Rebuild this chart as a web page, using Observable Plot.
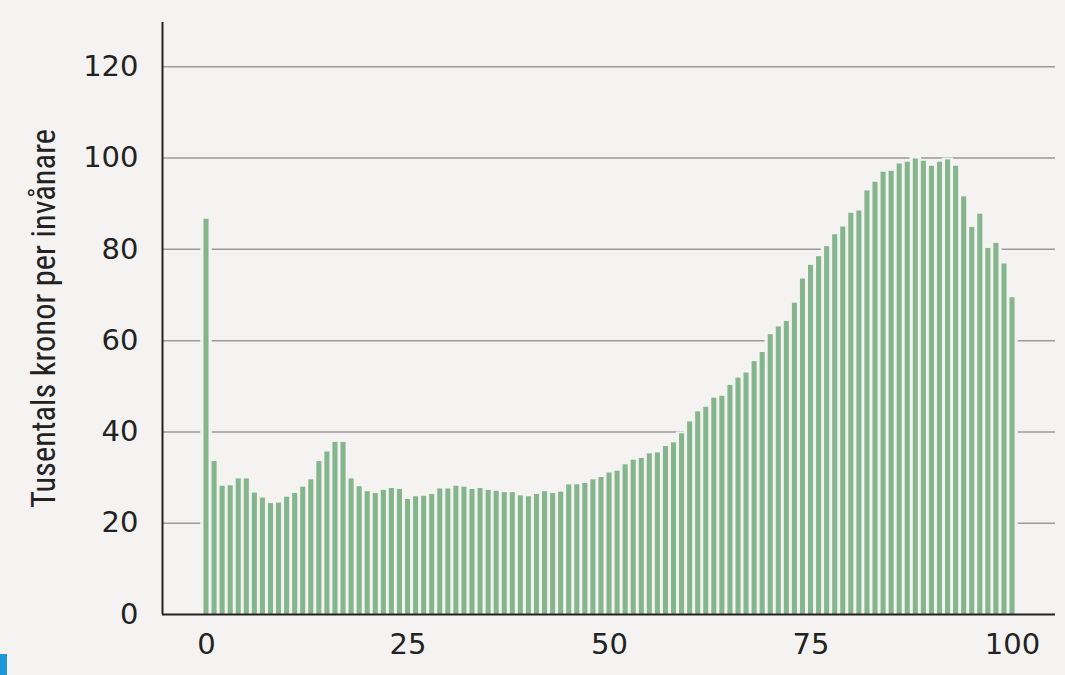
<!DOCTYPE html>
<html>
<head>
<meta charset="utf-8">
<script src="https://cdn.jsdelivr.net/npm/d3@7"></script>
<script src="https://cdn.jsdelivr.net/npm/@observablehq/plot@0.6"></script>
<style>
  html, body { margin: 0; padding: 0; background: #f4f3f1; }
  #chart { position: relative; width: 1065px; height: 675px; overflow: hidden; }
  #mark { position: absolute; left: 0; top: 654px; width: 7px; height: 21px; background: #1b98dc; }
</style>
</head>
<body>
<div id="chart"><div id="mark"></div></div>
<script>
// Age (years) categories
const ages = [
  0,1,2,3,4,5,6,7,8,9,10,11,12,13,14,15,16,17,18,19,
  20,21,22,23,24,25,26,27,28,29,30,31,32,33,34,35,36,37,38,39,
  40,41,42,43,44,45,46,47,48,49,50,51,52,53,54,55,56,57,58,59,
  60,61,62,63,64,65,66,67,68,69,70,71,72,73,74,75,76,77,78,79,
  80,81,82,83,84,85,86,87,88,89,90,91,92,93,94,95,96,97,98,99,100
];
// Thousands of kronor per inhabitant
const values = [
  86.6,33.5,28.1,28.2,29.7,29.7,26.6,25.5,24.3,24.4,
  25.7,26.5,27.9,29.5,33.5,35.6,37.7,37.7,29.7,28.0,
  26.9,26.5,27.2,27.6,27.4,25.2,25.8,25.9,26.3,27.5,
  27.5,28.1,27.9,27.4,27.6,27.2,27.0,26.7,26.7,26.0,
  25.8,26.3,26.9,26.5,26.8,28.4,28.4,28.7,29.5,30.0,
  31.0,31.4,32.8,33.8,34.2,35.2,35.4,36.8,37.6,39.6,
  42.2,44.4,45.4,47.4,47.8,50.2,51.8,52.9,55.4,57.4,
  61.3,63.0,64.2,68.2,73.5,76.5,78.4,80.6,83.2,84.9,
  87.9,88.4,92.8,94.7,96.9,97.1,98.7,99.1,99.8,99.3,
  98.2,99.1,99.6,98.2,91.5,84.8,87.7,80.2,81.3,76.8,69.4
];
const xTicks = [0, 25, 50, 75, 100];
const yTicks = [0, 20, 40, 60, 80, 100, 120];
const gridTicks = [20, 40, 60, 80, 100, 120];
const yTitle = "Tusentals kronor per invånare";

const data = ages.map((a, i) => ({age: a, value: values[i]}));

const bg = "#f4f3f1";
const green = "#85b58c";
const ink = "#222222";
const xDomain = [-5.46, 105.33];

const plot = Plot.plot({
  width: 1065,
  height: 675,
  marginLeft: 162,
  marginRight: 10,
  marginTop: 22,
  marginBottom: 61,
  style: {background: bg, overflow: "visible"},
  x: {domain: xDomain},
  y: {domain: [0, 129.7]},
  marks: [
    Plot.ruleY(gridTicks, {stroke: "#9a9a9a", strokeWidth: 1.5}),
    // background-coloured halo behind each bar (breaks the grid lines)
    Plot.rectY(data, {x1: d => d.age - 0.5, x2: d => d.age + 0.5, y: "value", fill: bg, stroke: bg, strokeWidth: 3.5}),
    Plot.rectY(data, {x1: d => d.age - 0.5, x2: d => d.age + 0.5, y: "value", fill: green, insetLeft: 1.5, insetRight: 1.5}),
    Plot.ruleX([xDomain[0]], {stroke: ink, strokeWidth: 2}),
    Plot.ruleY([0], {stroke: ink, strokeWidth: 2}),
    Plot.axisY({ticks: yTicks, tickSize: 0, tickPadding: 24, label: null, fontSize: 29, fontFamily: "DejaVu Sans", color: ink}),
    Plot.axisX({ticks: xTicks, tickSize: 0, tickPadding: 19, label: null, fontSize: 29, fontFamily: "DejaVu Sans", color: ink}),
    Plot.text([yTitle], {frameAnchor: "left", dx: -118, rotate: -90, textAnchor: "middle", lineAnchor: "middle",
      fontSize: 32.5, fontFamily: "'Liberation Sans Narrow', 'Roboto Condensed', sans-serif", fill: ink})
  ]
});
plot.style.position = "absolute";
plot.style.left = "0";
plot.style.top = "0";
document.getElementById("chart").prepend(plot);
</script>
</body>
</html>
